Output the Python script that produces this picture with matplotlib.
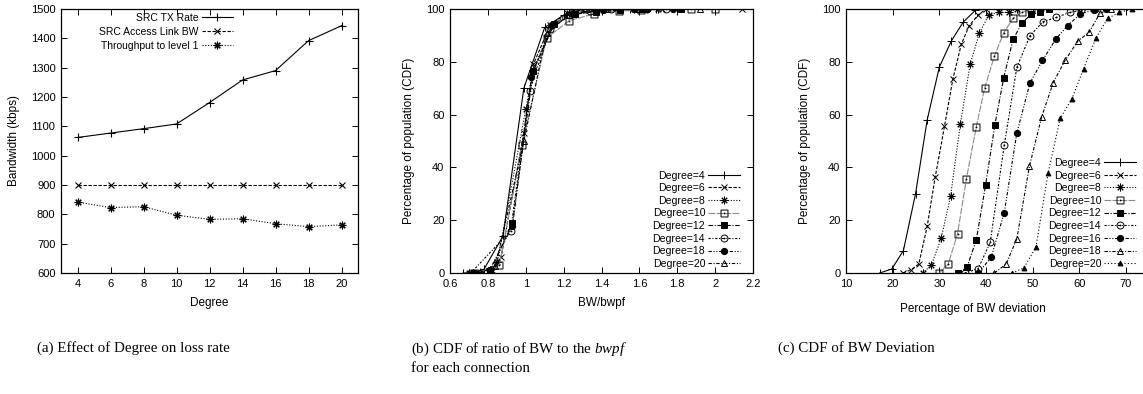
import matplotlib
matplotlib.use("Agg")
import matplotlib.pyplot as plt
from matplotlib.path import Path
from matplotlib.ticker import FormatStrFormatter
import numpy as np

# ---------------- data ----------------
degrees_a = [4, 6, 8, 10, 12, 14, 16, 18, 20]
src_tx_rate = [1062, 1077, 1092, 1108, 1181, 1258, 1290, 1392, 1443]
src_access_bw = [900, 900, 900, 900, 900, 900, 900, 900, 900]
throughput_l1 = [842, 823, 826, 797, 783, 785, 768, 758, 764]

# panel b: CDF of BW/bwpf  (x values, cdf values)
b_labels = ["Degree=4", "Degree=6", "Degree=8", "Degree=10", "Degree=12",
            "Degree=14", "Degree=18", "Degree=20"]
b_x = [
    [0.67, 0.76, 0.78, 0.88, 0.99, 1.10, 1.20, 1.30, 1.42, 1.55, 1.69],
    [0.71, 0.82, 0.87, 0.99, 1.04, 1.13, 1.22, 1.30, 1.50, 1.72, 2.14],
    [0.70, 0.81, 0.85, 1.00, 1.04, 1.14, 1.23, 1.37, 1.57, 1.70],
    [0.73, 0.86, 0.98, 1.11, 1.23, 1.36, 1.49, 1.61, 1.87, 2.00],
    [0.81, 0.93, 1.04, 1.15, 1.26, 1.37, 1.50, 1.62, 1.82],
    [0.71, 0.92, 1.02, 1.13, 1.23, 1.34, 1.45, 1.64, 1.74],
    [0.73, 0.81, 0.93, 1.03, 1.14, 1.25, 1.41, 1.57, 1.64, 1.78],
    [0.71, 0.84, 0.99, 1.11, 1.23, 1.43, 1.59, 1.92],
]
b_y = [
    [0, 0.3, 1.5, 14, 70, 93, 97.7, 99.9, 100, 100, 100],
    [0, 1.3, 6, 53, 79, 94, 98.4, 99.6, 100, 100, 100],
    [0, 1, 4, 62, 77, 94, 98.4, 99.6, 100, 100],
    [0, 2.9, 48.3, 89, 95.6, 98.1, 99.2, 99.6, 100, 100],
    [0.3, 19, 76.7, 94.3, 98, 99, 99.6, 100, 100],
    [0, 16, 69, 92.3, 97.7, 99.4, 99.9, 100, 100],
    [0, 1.3, 17.7, 74.4, 94, 98.6, 99.6, 99.9, 100, 100],
    [0, 2.5, 50, 91, 97.7, 99.9, 100, 100],
]

# panel c: CDF of BW deviation
c_labels = ["Degree=4", "Degree=6", "Degree=8", "Degree=10", "Degree=12",
            "Degree=14", "Degree=16", "Degree=18", "Degree=20"]
c_x = [
    [17.2, 19.8, 22.3, 24.9, 27.4, 30.0, 32.6, 35.1, 37.7, 40.0, 42.5],
    [22.2, 24.0, 25.6, 27.4, 29.1, 31.1, 32.9, 34.7, 36.4, 38.3, 40.0],
    [26.4, 28.3, 30.4, 32.4, 34.5, 36.6, 38.6, 40.6, 42.7, 44.9, 46.6],
    [30.0, 31.9, 33.9, 35.8, 37.9, 39.7, 41.8, 43.8, 45.8, 47.7, 49.7],
    [34.0, 35.9, 37.9, 39.9, 41.9, 43.8, 45.8, 47.7, 49.7, 51.6, 53.6],
    [35.4, 38.3, 40.9, 43.9, 46.6, 49.4, 52.2, 55.1, 57.9, 60.4, 63.3],
    [38.3, 41.1, 43.9, 46.6, 49.4, 52.1, 54.9, 57.5, 60.2, 63.1, 65.8],
    [41.8, 44.3, 46.6, 49.3, 51.9, 54.4, 57.0, 59.7, 62.1, 64.4, 66.8],
    [45.6, 48.1, 50.7, 53.3, 55.9, 58.4, 60.9, 63.6, 66.1, 68.6, 71.3],
]
c_y = [
    [0, 1.5, 8.5, 30, 58, 78, 88, 95, 99.5, 100, 100],
    [0, 1.3, 3.4, 17.7, 36.2, 55.5, 73.5, 86.6, 93.7, 97.7, 100],
    [0, 3.0, 13.2, 29, 56.4, 79, 91, 97.7, 98.7, 98.7, 100],
    [0, 3.4, 14.8, 35.7, 55.2, 70, 82.2, 91, 96.5, 98.7, 100],
    [0, 2.1, 12.4, 33.2, 56.1, 74, 88.5, 94.6, 98.1, 98.7, 100],
    [0, 1.6, 11.6, 48.3, 77.9, 89.8, 95.2, 96.8, 98.7, 99.6, 100],
    [0, 5.9, 22.7, 53, 71.9, 80.5, 88.5, 93.7, 98.1, 99.6, 100],
    [0, 3.4, 12.9, 40.4, 59, 72.1, 80.7, 87.9, 91.2, 98.4, 100],
    [0, 1.9, 9.8, 37.8, 58.6, 66, 77.3, 89.2, 96.5, 98.7, 100],
]

captions = ["(a) Effect of Degree on loss rate",
            "(b) CDF of ratio of BW to the $\\mathit{bwpf}$\nfor each connection",
            "(c) CDF of BW Deviation"]

# ---------------- style ----------------
plt.rcParams['font.family'] = ['Liberation Sans', 'DejaVu Sans']
plt.rcParams['mathtext.fontset'] = 'custom'
plt.rcParams['mathtext.it'] = 'Liberation Serif:italic'
plt.rcParams['mathtext.rm'] = 'Liberation Serif'
TICK_FS = 8.0
LABEL_FS = 8.5
LEG_FS = 7.6


def _dotted(base):
    small = Path.unit_circle()
    verts = small.vertices * 0.12
    dot = Path(verts, small.codes)
    return Path.make_compound_path(base, dot)


sq_path = Path([(-1, -1), (1, -1), (1, 1), (-1, 1), (-1, -1)],
               [Path.MOVETO, Path.LINETO, Path.LINETO, Path.LINETO, Path.CLOSEPOLY])
SQ_DOT = _dotted(sq_path)
CIRC_DOT = _dotted(Path.unit_circle())
ASTER = (8, 2, 0)

styles = {
    "Degree=4": dict(ls='-', marker='+', mfc='k', color='k', ms=6),
    "Degree=6": dict(ls=(0, (3, 1.5)), marker='x', mfc='k', color='k', ms=4.5),
    "Degree=8": dict(ls=(0, (1, 1.5)), marker=ASTER, mfc='k', color='k', ms=5.5),
    "Degree=10": dict(ls=(0, (6, 1.2)), marker=SQ_DOT, mfc='none', color='#8a8a8a', mec='k', ms=5),
    "Degree=12": dict(ls=(0, (4, 1.5, 1, 1.5)), marker='s', mfc='k', color='k', ms=4.5),
    "Degree=14": dict(ls=(0, (2, 1.5, 1, 1.5)), marker=CIRC_DOT, mfc='none', color='k', ms=5),
    "Degree=16": dict(ls=(0, (3, 1.5, 1, 1.5, 1, 1.5)), marker='o', mfc='k', color='k', ms=4.5),
    "Degree=18": dict(ls=(0, (3, 1.5, 1, 1.5)), marker='^', mfc='none', color='k', ms=5),
    "Degree=20": dict(ls=(0, (1, 2)), marker='^', mfc='k', color='k', ms=3.5),
}
# in panel b gnuplot assigned point types in order (no Degree=16)
styles_b = {
    "Degree=4": styles["Degree=4"], "Degree=6": styles["Degree=6"],
    "Degree=8": styles["Degree=8"], "Degree=10": styles["Degree=10"],
    "Degree=12": styles["Degree=12"], "Degree=14": styles["Degree=14"],
    "Degree=18": styles["Degree=16"], "Degree=20": styles["Degree=18"],
}

fig = plt.figure(figsize=(11.43, 3.94), dpi=100)
W, H = 1143.0, 394.0
bottom = 1 - 273 / H
height = 264 / H
C_W = 4.667 * 70
ax_a = fig.add_axes([61 / W, bottom, 297 / W, height])
ax_b = fig.add_axes([450 / W, bottom, 303 / W, height])
ax_c = fig.add_axes([846 / W, bottom, C_W / W, height])

for ax in (ax_a, ax_b, ax_c):
    ax.tick_params(direction='in', top=True, right=True, length=4, width=0.7,
                   labelsize=TICK_FS, pad=4)
    for s in ax.spines.values():
        s.set_linewidth(0.9)

LW = 0.8

# ---- panel a ----
ax_a.plot(degrees_a, src_tx_rate, color='k', lw=LW, ls='-', marker='+', ms=6,
          mew=0.8, label="SRC TX Rate")
ax_a.plot(degrees_a, src_access_bw, color='k', lw=LW, ls=(0, (3, 1.5)), marker='x',
          ms=4.5, mew=0.8, label="SRC Access Link BW")
ax_a.plot(degrees_a, throughput_l1, color='k', lw=LW, ls=(0, (1, 1.5)), marker=ASTER,
          ms=5.5, mew=0.8, label="Throughput to level 1")
ax_a.set_xlim(3, 21)
ax_a.set_ylim(600, 1500)
ax_a.set_xticks(range(4, 21, 2))
ax_a.set_yticks(range(600, 1501, 100))
ax_a.set_xlabel("Degree", fontsize=LABEL_FS, labelpad=6)
ax_a.set_ylabel("Bandwidth (kbps)", fontsize=LABEL_FS, labelpad=8)
ax_a.legend(loc='upper right', bbox_to_anchor=((233 - 61) / 297, 1 - 4 / 264),
            frameon=False, markerfirst=False, fontsize=7.5, handlelength=3.0,
            handletextpad=0.3, labelspacing=0.38, borderpad=0, borderaxespad=0)

# ---- panel b ----
for lab, xs, ys in zip(b_labels, b_x, b_y):
    st = dict(styles_b[lab])
    ax_b.plot(xs, ys, lw=LW, mew=0.7, label=lab, **st)
ax_b.set_xlim(0.6, 2.2)
ax_b.set_ylim(0, 100)
ax_b.set_xticks(np.round(np.arange(0.6, 2.21, 0.2), 1))
ax_b.xaxis.set_major_formatter(FormatStrFormatter('%g'))
ax_b.set_yticks(range(0, 101, 20))
ax_b.set_xlabel("BW/bwpf", fontsize=LABEL_FS, labelpad=6)
ax_b.set_ylabel("Percentage of population (CDF)", fontsize=LABEL_FS, labelpad=8)
ax_b.legend(loc='lower right', bbox_to_anchor=((740 - 450) / 303, 4 / 264),
            frameon=False, markerfirst=False, fontsize=LEG_FS, handlelength=3.0,
            handletextpad=0.3, labelspacing=0.25, borderpad=0, borderaxespad=0)

# ---- panel c ----
for lab, xs, ys in zip(c_labels, c_x, c_y):
    st = dict(styles[lab])
    ax_c.plot(xs, ys, lw=LW, mew=0.7, label=lab, **st)
ax_c.set_xlim(10, 80)
ax_c.set_ylim(0, 100)
ax_c.set_xticks(range(10, 81, 10))
ax_c.set_xticklabels([str(v) for v in range(10, 71, 10)] + [""])
ax_c.set_yticks(range(0, 101, 20))
ax_c.set_xlabel("Percentage of BW deviation", fontsize=LABEL_FS)
ax_c.xaxis.set_label_coords((973 - 846) / C_W, -30 / 264)
ax_c.set_ylabel("Percentage of population (CDF)", fontsize=LABEL_FS, labelpad=8)
ax_c.legend(loc='lower right', bbox_to_anchor=((1136 - 846) / C_W, 4 / 264),
            frameon=False, markerfirst=False, fontsize=LEG_FS, handlelength=3.0,
            handletextpad=0.3, labelspacing=0.25, borderpad=0, borderaxespad=0)

# ---- captions ----
cap_x = [37 / W, 411 / W, 778 / W]
for x, txt in zip(cap_x, captions):
    fig.text(x, 1 - 341 / H, txt, family='Liberation Serif', fontsize=10.8,
             va='top', ha='left', linespacing=1.4)

fig.savefig("out.png", dpi=100)
